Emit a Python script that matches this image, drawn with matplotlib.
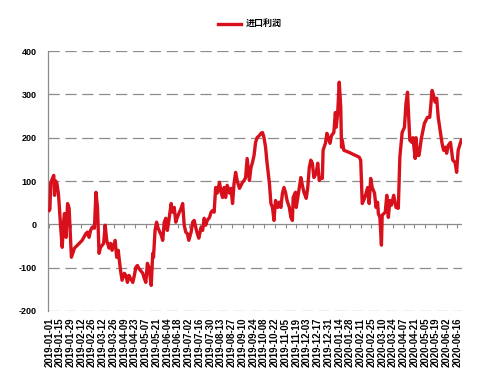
import matplotlib
matplotlib.use("Agg")
import matplotlib.pyplot as plt
import numpy as np
import pandas as pd

plt.rcParams['font.family'] = ['Liberation Sans', 'Noto Sans CJK SC', 'DejaVu Sans']

# Day offsets from 2019-01-01 and import-profit values
days = [0, 1, 2, 4, 6, 7, 8, 10, 12, 13, 15, 17, 19, 20, 22, 24, 26, 29, 33, 37,
        43, 48, 50, 52, 54, 56, 59, 61, 63, 65, 67, 71, 73, 75, 78, 80, 82, 86, 88, 90,
        93, 95, 98, 100, 102, 104, 106, 109, 111, 113, 115, 117, 122, 124, 126, 128, 130, 133, 135, 136,
        138, 140, 142, 146, 148, 150, 152, 154, 156, 159, 161, 163, 165, 167, 169, 172, 174, 176, 178, 180,
        182, 185, 187, 189, 191, 193, 195, 198, 200, 202, 204, 206, 209, 211, 213, 215, 217, 219, 222, 224,
        226, 228, 230, 232, 235, 237, 239, 241, 243, 245, 248, 250, 252, 254, 256, 258, 261, 263, 265, 267,
        269, 271, 274, 276, 278, 280, 282, 284, 287, 289, 291, 293, 295, 298, 300, 302, 304, 306, 308, 310,
        313, 315, 317, 318, 321, 322, 326, 328, 330, 332, 335, 337, 339, 341, 343, 345, 348, 350, 352, 354,
        356, 357, 360, 362, 364, 366, 368, 371, 373, 374, 376, 378, 380, 381, 382, 384, 391, 404, 406, 408,
        411, 413, 415, 417, 419, 421, 424, 426, 428, 429, 431, 433, 434, 438, 440, 442, 444, 446, 449, 452,
        455, 457, 460, 463, 465, 467, 470, 473, 474, 477, 478, 480, 482, 485, 489, 491, 493, 496, 499, 501,
        503, 505, 507, 510, 512, 514, 516, 518, 520, 523, 526, 529, 531, 533, 537]
profit = [32, 35, 95, 105, 113, 67, 101, 95, 72, 48, -7, -53, 9, 25, -30, 48, 37, -76, -55, -48,
          -37, -21, -18, -30, -14, -7, -9, 74, 39, -67, -53, -44, -2, -37, -55, -44, -60, -37, -76, -60,
          -106, -129, -113, -118, -134, -118, -125, -134, -118, -99, -95, -102, -113, -125, -134, -90, -99, -141, -67, -76,
          -14, 5, -9, -25, -37, 5, 14, -14, 9, 48, 28, 39, 5, 16, 25, 37, 48, -2, -18, -21,
          -37, -18, 5, 9, -7, -21, -32, -7, -14, 14, -2, 9, 16, 28, 32, 28, 85, 72, 97, 74,
          62, 85, 62, 90, 72, 83, 48, 95, 120, 101, 83, 90, 97, 101, 108, 152, 101, 131, 143, 159,
          189, 200, 205, 210, 212, 200, 178, 141, 95, 48, 39, 9, 55, 39, 51, 39, 72, 85, 74, 55,
          39, 16, 9, 62, 74, 39, 85, 108, 90, 74, 60, 85, 131, 148, 141, 108, 118, 141, 101, 108,
          106, 171, 187, 210, 198, 187, 205, 212, 258, 224, 256, 328, 270, 178, 194, 171, 166, 155, 148, 48,
          60, 72, 85, 48, 106, 85, 72, 39, 51, 25, 16, -48, 21, 28, 67, 16, 55, 44, 67, 39,
          37, 155, 212, 224, 279, 305, 194, 189, 200, 152, 200, 159, 159, 198, 233, 240, 247, 247, 309, 298,
          282, 291, 247, 212, 187, 171, 178, 164, 182, 189, 148, 143, 120, 171, 194]

start = pd.Timestamp('2019-01-01')
dates = start + pd.to_timedelta(days, unit='D')
tick_dates = pd.date_range('2019-01-01', '2020-06-16', freq='14D')
yticks = [400, 300, 200, 100, 0, -100, -200]
series_name = '进口利润'

fig = plt.figure(figsize=(5.0, 3.88), dpi=100)
ax = fig.add_axes([0.096, 0.1985, 0.828, 0.67])

ax.plot(dates, profit, color='#D7101C', lw=2.4, solid_joinstyle='round', label=series_name, zorder=3)

ax.set_ylim(-200, 400)
ax.set_xlim(start - pd.Timedelta(days=1.5), start + pd.Timedelta(days=538))
ax.set_yticks(yticks)
ax.set_yticklabels([str(v) for v in yticks], fontsize=6.5, fontweight='bold')
ax.tick_params(axis='y', length=0, pad=8)

for v in yticks:
    if v == 0:
        ax.axhline(v, color='#8c8c8c', lw=0.9, zorder=1)
    else:
        ax.axhline(v, color='#8c8c8c', lw=0.9, ls=(0, (9, 4.5)), zorder=1)

ax.set_xticks(tick_dates)
ax.set_xticklabels([d.strftime('%Y-%m-%d') for d in tick_dates], rotation=90, fontsize=6.9, fontweight='bold')
ax.tick_params(axis='x', length=0, pad=5)

for s in ['top', 'right', 'bottom']:
    ax.spines[s].set_visible(False)
ax.spines['left'].set_color('#8c8c8c')
ax.spines['left'].set_linewidth(0.9)

sec = ax.secondary_xaxis(1/3)
sec.set_xticks(tick_dates)
sec.set_xticklabels([])
sec.tick_params(axis='x', direction='out', length=3, color='#8c8c8c', width=0.8)
sec.spines['bottom'].set_visible(False)

leg = fig.legend(loc='upper center', bbox_to_anchor=(0.5, 0.97), frameon=False,
                 prop={'family': ['Noto Sans CJK SC'], 'size': 6.5, 'weight': 'bold'},
                 handlelength=2.6, handletextpad=0.5)

fig.savefig('out.png', dpi=100)
